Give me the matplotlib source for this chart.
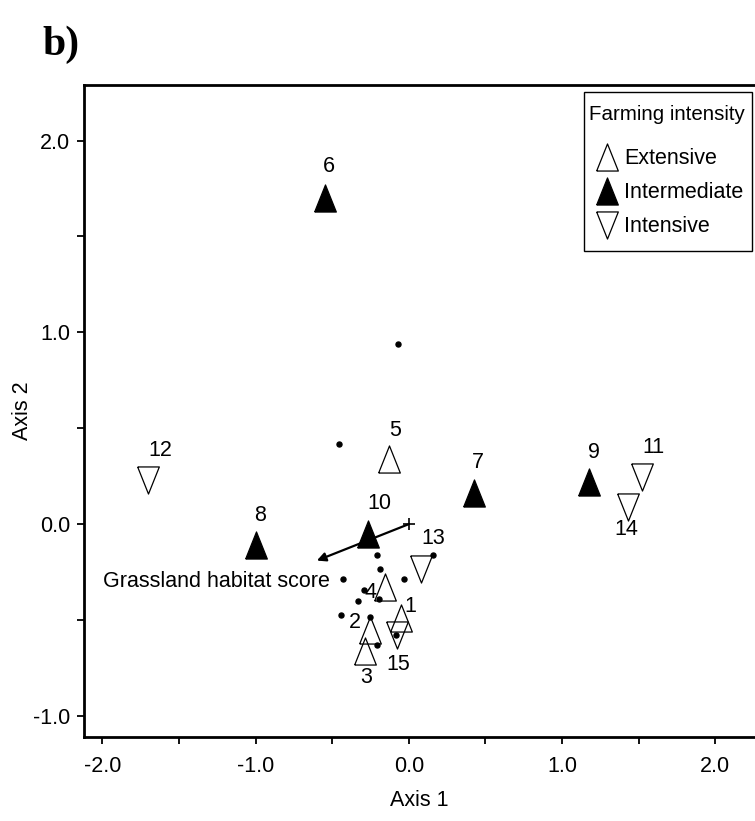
import matplotlib
matplotlib.use("Agg")
import matplotlib.pyplot as plt
from matplotlib.patches import Rectangle
import numpy as np

plt.rcParams['font.family'] = ['Liberation Sans', 'DejaVu Sans']
FS = 15.5

# Site scores (triangles)
site_ids = ['1', '2', '3', '4', '5', '6', '7', '8', '9', '10', '11', '12', '13', '14', '15']
site_x = [-0.05, -0.25, -0.285, -0.155, -0.13, -0.55, 0.425, -1.00, 1.175, -0.265, 1.52, -1.70, 0.08, 1.43, -0.075]
site_y = [-0.49, -0.55, -0.66, -0.33, 0.34, 1.70, 0.16, -0.11, 0.22, -0.05, 0.245, 0.23, -0.235, 0.09, -0.58]
site_group = ['Extensive', 'Extensive', 'Extensive', 'Extensive', 'Extensive',
              'Intermediate', 'Intermediate', 'Intermediate', 'Intermediate', 'Intermediate',
              'Intensive', 'Intensive', 'Intensive', 'Intensive', 'Intensive']
label_x = [0.01, -0.35, -0.28, -0.25, -0.09, -0.52, 0.45, -0.97, 1.21, -0.19, 1.595, -1.62, 0.16, 1.42, -0.07]
label_y = [-0.43, -0.515, -0.80, -0.355, 0.49, 1.865, 0.32, 0.047, 0.375, 0.11, 0.40, 0.385, -0.073, -0.03, -0.73]

# Species scores (small dots)
dot_x = [-0.07, -0.455, 0.16, -0.205, -0.187, -0.428, -0.03, -0.29, -0.193, -0.33, -0.44, -0.25, -0.083, -0.207]
dot_y = [0.94, 0.417, -0.16, -0.16, -0.234, -0.286, -0.286, -0.344, -0.39, -0.40, -0.474, -0.484, -0.578, -0.63]

# Environmental vector
vec_name = 'Grassland habitat score'
vec_x = -0.60
vec_y = -0.19

legend_title = 'Farming intensity'
legend_groups = ['Extensive', 'Intermediate', 'Intensive']

x_ticks = [-2.0, -1.5, -1.0, -0.5, 0.0, 0.5, 1.0, 1.5, 2.0]
y_ticks = [-1.0, -0.5, 0.0, 0.5, 1.0, 1.5, 2.0]

up = [(-0.8, -1.0), (0.8, -1.0), (0.0, 1.0), (-0.8, -1.0)]
down = [(-0.8, 1.0), (0.8, 1.0), (0.0, -1.0), (-0.8, 1.0)]
styles = {
    'Extensive': dict(marker=up, mfc='none', mec='black'),
    'Intermediate': dict(marker=up, mfc='black', mec='black'),
    'Intensive': dict(marker=down, mfc='none', mec='black'),
}

fig = plt.figure(figsize=(7.55, 8.21), dpi=100)
ax = fig.add_axes([84/755, (821-737)/821, (755-84)/755, (737-85)/821])
ax.set_xlim(-2.12, 2.26)
ax.set_ylim(-1.11, 2.29)

for i in range(len(site_ids)):
    st = styles[site_group[i]]
    ax.plot(site_x[i], site_y[i], linestyle='none', marker=st['marker'], markersize=19.5,
            markerfacecolor=st['mfc'], markeredgecolor=st['mec'], markeredgewidth=0.9, zorder=3)
    ax.text(label_x[i], label_y[i], site_ids[i], fontsize=FS, ha='center', va='center', zorder=5)

ax.plot(dot_x, dot_y, linestyle='none', marker='o', markersize=3.6, color='black', zorder=4)

ax.annotate('', xy=(vec_x, vec_y), xytext=(0, 0),
            arrowprops=dict(arrowstyle='-|>', color='black', lw=1.6, mutation_scale=13,
                            shrinkA=0, shrinkB=0), zorder=4)
ax.plot(0, 0, marker='+', markersize=9, color='black', mew=1.2, zorder=4)
ax.text(vec_x + 0.085, vec_y - 0.11, vec_name, fontsize=FS, ha='right', va='center', zorder=5)

ax.set_xticks(x_ticks)
ax.set_xticklabels(['%.1f' % v if abs(v - round(v)) < 1e-9 else '' for v in x_ticks])
ax.set_yticks(y_ticks)
ax.set_yticklabels(['%.1f' % v if abs(v - round(v)) < 1e-9 else '' for v in y_ticks])
ax.tick_params(direction='out', length=5, width=1.3, labelsize=FS, pad=5)
ax.tick_params(axis='x', pad=9)
for s in ['left', 'bottom', 'top']:
    ax.spines[s].set_linewidth(2.0)
ax.spines['right'].set_visible(False)

ax.set_xlabel('Axis 1', fontsize=FS, labelpad=9)
ax.set_ylabel('Axis 2', fontsize=FS, labelpad=0)

# Manual legend (axes fraction coordinates)
def axx(px):
    return (px - 84) / 671.0
def axy(py):
    return (737 - py) / 652.0

box = Rectangle((axx(584), axy(251)), axx(752) - axx(584), axy(92) - axy(251),
                transform=ax.transAxes, facecolor='white', edgecolor='black', lw=1.0,
                zorder=6, clip_on=False)
ax.add_patch(box)
ax.text(axx(589), axy(114), legend_title, transform=ax.transAxes, fontsize=14.8,
        ha='left', va='center', zorder=7)
row_y = [157, 191, 225]
for g, ry in zip(legend_groups, row_y):
    st = styles[g]
    ax.plot(axx(607), axy(ry), transform=ax.transAxes, linestyle='none', marker=st['marker'],
            markersize=19.5, markerfacecolor=st['mfc'], markeredgecolor='black',
            markeredgewidth=0.9, zorder=7, clip_on=False)
    ax.text(axx(624), axy(ry + 1), g, transform=ax.transAxes, fontsize=FS,
            ha='left', va='center', zorder=7)

fig.text(42/755, 1 - 45/821, 'b)', fontsize=30, fontweight='bold', family=['Liberation Serif', 'DejaVu Serif'],
         ha='left', va='center')

fig.savefig('out.png', dpi=100)
